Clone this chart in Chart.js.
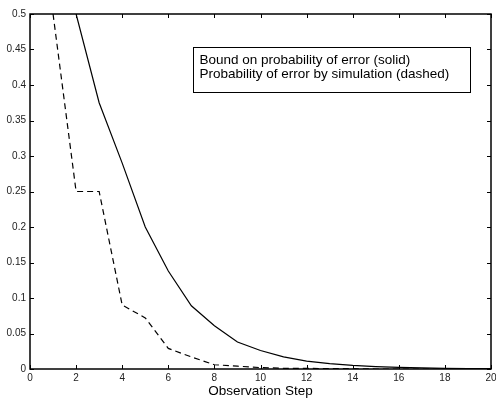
<!DOCTYPE html>
<html lang="en">
<head>
    <meta charset="UTF-8">
    <title>Probability of error vs observation step</title>
    <style>
        body {
            margin: 0;
            padding: 0;
            background-color: white;
            overflow: hidden;
        }
        .chart-container {
            width: 496px;
            height: 399px;
        }
    </style>
</head>
<body>
    <div class="chart-container">
        <canvas id="errorChart"></canvas>
    </div>

    <script src="https://cdn.jsdelivr.net/npm/chart.js"></script>

    <script>
        // values
        const boundSteps = [2, 3, 4, 5, 6, 7, 8, 9, 10, 11, 12, 13, 14, 15, 16, 17, 18, 19, 20];
        const boundValues = [0.5, 0.375, 0.29, 0.2, 0.138, 0.089, 0.061, 0.038, 0.026, 0.017, 0.011, 0.0075, 0.005, 0.0033, 0.0022, 0.0015, 0.001, 0.0007, 0.0005];
        const simSteps = [1, 2, 3, 4, 5, 6, 7, 8, 9, 10, 11, 12, 13, 14, 15, 16, 17, 18, 19, 20];
        const simValues = [0.5, 0.25, 0.25, 0.09, 0.072, 0.029, 0.017, 0.006, 0.004, 0.002, 0.001, 0.001, 0.0005, 0.0005, 0, 0, 0, 0, 0, 0];
        const legendLines = ['Bound on probability of error (solid)', 'Probability of error by simulation (dashed)'];
        const xTicks = [0, 2, 4, 6, 8, 10, 12, 14, 16, 18, 20];
        const yTicks = [0, 0.05, 0.1, 0.15, 0.2, 0.25, 0.3, 0.35, 0.4, 0.45, 0.5];

        const toPoints = (xs, ys) => xs.map((x, i) => ({ x: x, y: ys[i] }));

        // frame with inward ticks on all four sides, plus the text legend box
        const matlabFrame = {
            id: 'matlabFrame',
            afterDraw(chart) {
                const { ctx, chartArea: a, scales } = chart;
                const len = 4;
                ctx.save();
                ctx.strokeStyle = '#000';
                ctx.lineWidth = 1;
                ctx.beginPath();
                xTicks.forEach(v => {
                    const px = Math.round(scales.x.getPixelForValue(v)) + 0.5;
                    ctx.moveTo(px, a.bottom);
                    ctx.lineTo(px, a.bottom - len);
                    ctx.moveTo(px, a.top);
                    ctx.lineTo(px, a.top + len);
                });
                yTicks.forEach(v => {
                    const py = Math.round(scales.y.getPixelForValue(v)) + 0.5;
                    ctx.moveTo(a.left, py);
                    ctx.lineTo(a.left + len, py);
                    ctx.moveTo(a.right, py);
                    ctx.lineTo(a.right - len, py);
                });
                ctx.stroke();
                ctx.lineWidth = 1.5;
                ctx.strokeRect(a.left, a.top, a.right - a.left, a.bottom - a.top);

                // legend box
                ctx.font = '13.5px "Liberation Sans", Arial, sans-serif';
                const bx = 193.5, by = 47.5;
                const bw = 277, bh = 45;
                ctx.fillStyle = '#fff';
                ctx.fillRect(bx, by, bw, bh);
                ctx.lineWidth = 1;
                ctx.strokeRect(bx, by, bw, bh);
                ctx.fillStyle = '#000';
                ctx.textBaseline = 'middle';
                legendLines.forEach((t, i) => {
                    ctx.fillText(t, bx + 6, by + 13 + i * 14);
                });
                ctx.restore();
            }
        };

        window.onload = function() {
            const ctx = document.getElementById('errorChart').getContext('2d');
            new Chart(ctx, {
                type: 'line',
                data: {
                    datasets: [{
                        label: legendLines[0],
                        data: toPoints(boundSteps, boundValues),
                        borderColor: '#000',
                        borderWidth: 1.2,
                        pointRadius: 0,
                        tension: 0,
                        fill: false
                    }, {
                        label: legendLines[1],
                        data: toPoints(simSteps, simValues),
                        borderColor: '#000',
                        borderWidth: 1.2,
                        borderDash: [6, 4],
                        pointRadius: 0,
                        tension: 0,
                        fill: false
                    }]
                },
                options: {
                    responsive: true,
                    maintainAspectRatio: false,
                    animation: false,
                    layout: {
                        padding: { top: 14, right: 5, left: 0, bottom: 0 }
                    },
                    plugins: {
                        legend: { display: false },
                        tooltip: { enabled: false }
                    },
                    scales: {
                        x: {
                            type: 'linear',
                            min: 0,
                            max: 20,
                            afterBuildTicks: axis => { axis.ticks = xTicks.map(v => ({ value: v })); },
                            afterFit: axis => {
                                axis.height = 30;
                                axis.paddingRight = 0;
                                axis.paddingLeft = 0;
                            },
                            grid: { display: false, drawTicks: false },
                            border: { display: false },
                            ticks: {
                                color: '#222',
                                padding: 3,
                                maxRotation: 0,
                                font: { family: '"Liberation Sans", Arial, sans-serif', size: 10 }
                            },
                            title: {
                                display: true,
                                text: 'Observation Step',
                                color: '#000',
                                padding: { top: 0, bottom: 0 },
                                font: { family: '"Liberation Sans", Arial, sans-serif', size: 13.5 }
                            }
                        },
                        y: {
                            min: 0,
                            max: 0.5,
                            afterBuildTicks: axis => { axis.ticks = yTicks.map(v => ({ value: v })); },
                            afterFit: axis => { axis.width = 30; },
                            grid: { display: false, drawTicks: false },
                            border: { display: false },
                            ticks: {
                                color: '#222',
                                padding: 4,
                                callback: v => String(+v.toFixed(2)),
                                font: { family: '"Liberation Sans", Arial, sans-serif', size: 10 }
                            }
                        }
                    }
                },
                plugins: [matlabFrame]
            });
        };
    </script>
</body>
</html>
